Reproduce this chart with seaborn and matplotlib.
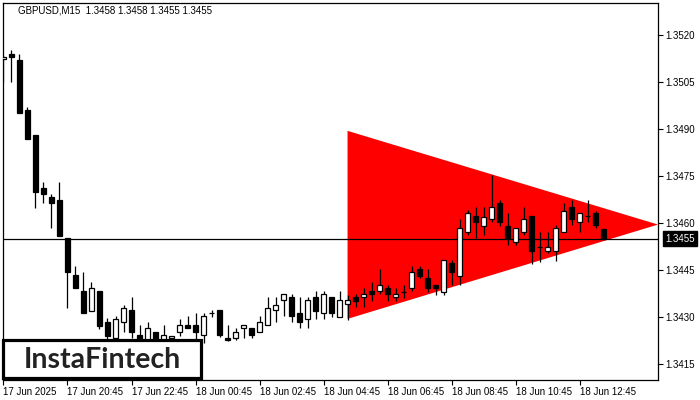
import matplotlib
matplotlib.use("Agg")
import matplotlib.pyplot as plt
from matplotlib.patches import Rectangle
import seaborn as sns
import pandas as pd
import numpy as np

# GBPUSD M15 candles
opens = [1.35123, 1.35139, 1.35120, 1.34961, 1.34881, 1.34712, 1.34683, 1.34673, 1.34552, 1.34434,
         1.34383, 1.34319, 1.34383, 1.34284, 1.34233, 1.34284, 1.34322, 1.34243, 1.34217, 1.34252,
         1.34214, 1.34233, 1.34252, 1.34274, 1.34274, 1.34243, 1.34313, 1.34322, 1.34233, 1.34233,
         1.34265, 1.34265, 1.34252, 1.34274, 1.34322, 1.34354, 1.34364, 1.34313, 1.34294, 1.34364,
         1.34313, 1.34364, 1.34300, 1.34342, 1.34364, 1.34364, 1.34383, 1.34383, 1.34393, 1.34364,
         1.34380, 1.34393, 1.34453, 1.34424, 1.34402, 1.34380, 1.34472, 1.34431, 1.34571, 1.34622,
         1.34590, 1.34613, 1.34664, 1.34590, 1.34539, 1.34571, 1.34622, 1.34523, 1.34511, 1.34511,
         1.34571, 1.34651, 1.34603, 1.34622, 1.34632, 1.34580]
highs = [1.35136, 1.35152, 1.35139, 1.34970, 1.34881, 1.34731, 1.34693, 1.34731, 1.34552, 1.34463,
         1.34444, 1.34412, 1.34383, 1.34297, 1.34303, 1.34338, 1.34364, 1.34274, 1.34284, 1.34252,
         1.34274, 1.34239, 1.34294, 1.34303, 1.34313, 1.34313, 1.34322, 1.34322, 1.34274, 1.34265,
         1.34274, 1.34265, 1.34303, 1.34364, 1.34364, 1.34373, 1.34373, 1.34364, 1.34364, 1.34383,
         1.34383, 1.34364, 1.34383, 1.34370, 1.34373, 1.34393, 1.34412, 1.34453, 1.34402, 1.34393,
         1.34402, 1.34463, 1.34463, 1.34453, 1.34402, 1.34482, 1.34482, 1.34613, 1.34641, 1.34651,
         1.34651, 1.34753, 1.34673, 1.34632, 1.34584, 1.34651, 1.34622, 1.34571, 1.34571, 1.34594,
         1.34664, 1.34673, 1.34632, 1.34673, 1.34638, 1.34580]
lows = [1.35050, 1.35050, 1.34951, 1.34868, 1.34648, 1.34664, 1.34584, 1.34559, 1.34329, 1.34393,
        1.34313, 1.34319, 1.34262, 1.34230, 1.34227, 1.34252, 1.34233, 1.34207, 1.34207, 1.34200,
        1.34200, 1.34233, 1.34239, 1.34265, 1.34211, 1.34217, 1.34300, 1.34236, 1.34224, 1.34227,
        1.34233, 1.34233, 1.34252, 1.34274, 1.34284, 1.34303, 1.34284, 1.34265, 1.34265, 1.34294,
        1.34294, 1.34300, 1.34300, 1.34290, 1.34332, 1.34332, 1.34351, 1.34373, 1.34351, 1.34351,
        1.34361, 1.34383, 1.34424, 1.34380, 1.34370, 1.34370, 1.34402, 1.34402, 1.34562, 1.34552,
        1.34562, 1.34603, 1.34590, 1.34530, 1.34530, 1.34562, 1.34469, 1.34476, 1.34504, 1.34479,
        1.34571, 1.34594, 1.34571, 1.34603, 1.34584, 1.34550]
closes = [1.35130, 1.35130, 1.34951, 1.34868, 1.34699, 1.34693, 1.34664, 1.34559, 1.34444, 1.34393,
          1.34313, 1.34393, 1.34271, 1.34239, 1.34294, 1.34328, 1.34252, 1.34220, 1.34265, 1.34214,
          1.34243, 1.34239, 1.34274, 1.34265, 1.34252, 1.34303, 1.34313, 1.34243, 1.34227, 1.34252,
          1.34274, 1.34243, 1.34284, 1.34328, 1.34338, 1.34373, 1.34303, 1.34284, 1.34354, 1.34319,
          1.34373, 1.34313, 1.34354, 1.34354, 1.34351, 1.34373, 1.34373, 1.34402, 1.34373, 1.34373,
          1.34380, 1.34444, 1.34431, 1.34393, 1.34393, 1.34482, 1.34444, 1.34584, 1.34632, 1.34603,
          1.34619, 1.34651, 1.34603, 1.34552, 1.34584, 1.34613, 1.34511, 1.34523, 1.34523, 1.34584,
          1.34638, 1.34613, 1.34632, 1.34622, 1.34594, 1.34550]

# symmetrical triangle pattern (bar index, price)
tri_bars = [43, 43, 81.8]
tri_prices = [1.34894, 1.34294, 1.34595]

last_price = 1.3455
title_text = "GBPUSD,M15  1.3458 1.3458 1.3455 1.3455"
price_ticks = [1.3415, 1.3430, 1.3445, 1.3460, 1.3475, 1.3490, 1.3505, 1.3520]
time_tick_bars = [0, 8, 16, 24, 32, 40, 48, 56, 64, 72]
time_tick_labels = ["17 Jun 2025", "17 Jun 20:45", "17 Jun 22:45", "18 Jun 00:45",
                    "18 Jun 02:45", "18 Jun 04:45", "18 Jun 06:45", "18 Jun 08:45",
                    "18 Jun 10:45", "18 Jun 12:45"]

df = pd.DataFrame({"open": opens, "high": highs, "low": lows, "close": closes})
df["bar"] = np.arange(len(df))
df["bull"] = df["close"] >= df["open"]

sns.set_style("white")
plt.rcParams["font.family"] = ["Liberation Sans", "DejaVu Sans"]

fig = plt.figure(figsize=(7, 4), dpi=100)
ax = fig.add_axes([3 / 700, 20 / 400, 655 / 700, 377 / 400])

# triangle
ax.fill(tri_bars, tri_prices, color="#ff0000", lw=0, zorder=1)

# last price line
ax.axhline(last_price, color="black", lw=0.9, zorder=2)

# wicks and bodies
ax.vlines(df["bar"], df["low"], df["high"], color="black", lw=0.9, zorder=3)
body_bottom = df[["open", "close"]].min(axis=1)
body_height = (df["close"] - df["open"]).abs()
ax.bar(df["bar"], body_height, bottom=body_bottom, width=0.62,
       color=np.where(df["bull"], "white", "black"), edgecolor="black",
       linewidth=0.9, zorder=4)

ax.set_xlim(-0.06, 81.8)
ax.set_ylim(1.34099, 1.35302)

ax.yaxis.tick_right()
ax.set_yticks(price_ticks)
ax.set_yticklabels([f"{p:.4f}" for p in price_ticks])
ax.set_xticks(time_tick_bars)
ax.set_xticklabels(time_tick_labels, ha="left")
ax.tick_params(axis="both", direction="out", length=3.5, width=0.8, color="black",
               labelsize=7, labelcolor="black", pad=1.5, bottom=True, right=True)

for side in ["left", "right", "top", "bottom"]:
    ax.spines[side].set_visible(True)
    ax.spines[side].set_color("black")
    ax.spines[side].set_linewidth(0.9)

ax.text(15 / 655, 0.981, title_text, transform=ax.transAxes, fontsize=7,
        ha="left", va="center", color="black")

# current price tag on the price scale
ax.text(1.0 + 7 / 655, last_price, f"{last_price:.4f}",
        transform=ax.get_yaxis_transform(), fontsize=7, color="white",
        ha="left", va="center", zorder=6, clip_on=False,
        bbox=dict(boxstyle="square,pad=0.25", fc="black", ec="black"))

# logo box
fig.add_artist(Rectangle((3 / 700, 1 - 378 / 400), 198 / 700, 38 / 400,
                         transform=fig.transFigure, facecolor="white",
                         edgecolor="black", linewidth=2.3, zorder=10))
fig.text(102 / 700, 1 - 360 / 400, "InstaFintech", fontsize=20.5, color="#222222",
         family=["Lato", "DejaVu Sans"], fontweight="bold",
         ha="center", va="center", zorder=11)

fig.savefig("out.png", dpi=100)
